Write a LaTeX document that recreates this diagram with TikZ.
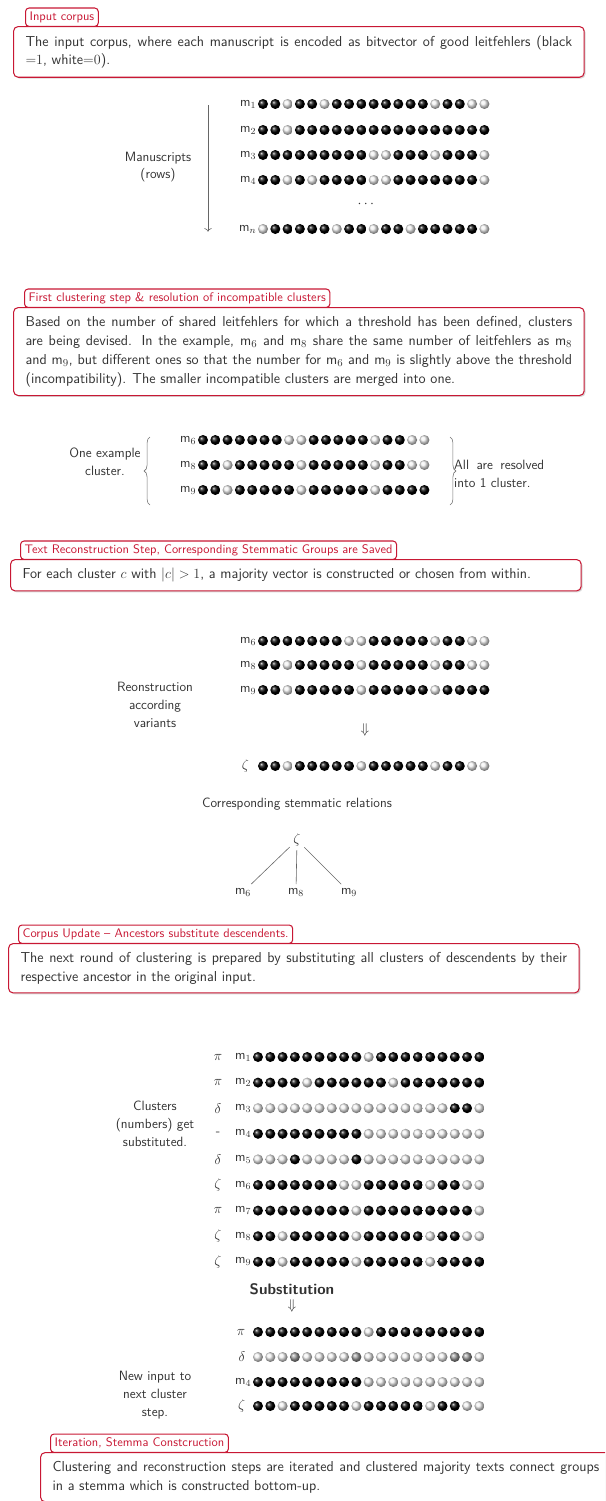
\documentclass[tikz,border=0pt]{standalone}
\usepackage{amsmath,amssymb}
\usepackage{xcolor}
\usepackage{tikz}
\usetikzlibrary{arrows.meta,positioning,calc,shadows,decorations.pathreplacing}

\renewcommand{\familydefault}{\sfdefault}
\definecolor{framered}{RGB}{200,24,52}
\definecolor{textgray}{RGB}{50,50,50}
\colorlet{bit0}{gray!12}
\colorlet{bit1}{black}
\colorlet{bit2}{gray!80}

\newcommand{\bodyfont}{\fontsize{12.3}{16.2}\selectfont}
\newcommand{\tabfont}{\fontsize{10.6}{12}\selectfont}
\newcommand{\notefont}{\fontsize{11.5}{15.3}\selectfont}
\newcommand{\bitsep}{0.369}
\newcommand{\bitrad}{0.15}
% one row of leitfehlers: [label offset]{name}{first ball}{label}{bits}
\newcommand{\bitrow}[5][0.18]{%
  \coordinate (#2) at #3;
  \node[rowlabel] (#2lab) at ($(#2)+(-#1,0)$) {#4};
  \foreach \b [count=\k from 0] in {#5}
    \shade[ball color=bit\b] ($(#2)+(\k*\bitsep,0)$) circle (\bitrad);
}

\begin{document}
\begin{tikzpicture}[
  stepbox/.style={draw=framered,line width=0.9pt,rounded corners=4pt,fill=white,
                  text width=16.4cm,align=justify,inner xsep=0.36cm,inner ysep=0.26cm,
                  font=\bodyfont,text=textgray,anchor=north west,
                  drop shadow={shadow xshift=1.2pt,shadow yshift=-1.2pt,opacity=0.3}},
  steptab/.style={draw=framered,line width=0.9pt,rounded corners=3pt,fill=white,
                  text=framered,font=\tabfont,inner xsep=3.5pt,inner ysep=3pt,
                  text height=7.5pt,text depth=2.2pt},
  sidenote/.style={align=center,font=\notefont,text=textgray},
  rowlabel/.style={anchor=east,inner sep=0.5pt,font=\notefont,text=textgray},
  greek/.style={inner sep=0.5pt,font=\notefont,text=textgray},
  treenode/.style={inner sep=3pt,font=\notefont,text=textgray},
  guide/.style={draw=black!60,line width=0.5pt},
  curly/.style={draw=black!55,line width=0.5pt,decorate,decoration={brace,amplitude=5pt}}
]
  \useasboundingbox (0,0) rectangle (18.15,-45.03);
  \clip (0,0) rectangle (18.15,-45.03);

  % input corpus
  \node[stepbox] (box1) at (0.39,-0.78) {
    The input corpus, where each manuscript is encoded as bitvector of good leitfehlers (black\linebreak
    ${=}1$, white${=}0$).};
  \node[steptab,above right=-0.8pt and 0.36cm of box1.north west] (tab1) {Input corpus};

  \node[sidenote] (mss) at (4.74,-5.01) {Manuscripts\\(rows)};
  \coordinate (arrtop) at (6.24,-3.15);
  \coordinate (arrbot) at (6.24,-6.95);
  \draw[guide,-{To[length=3pt]}] (arrtop) -- (arrbot);
  \bitrow{ma}{(7.89,-3.12)}{m$_1$}{1,1,0,1,1,0,1,1,1,1,1,1,1,1,0,1,1,0,0}
  \bitrow{mb}{(7.89,-3.90)}{m$_2$}{1,1,0,1,1,1,1,1,1,1,1,1,1,1,1,1,1,1,1}
  \bitrow{mc}{(7.89,-4.65)}{m$_3$}{1,1,1,1,1,1,1,1,1,0,0,1,1,1,0,1,1,1,0}
  \bitrow{md}{(7.89,-5.40)}{m$_4$}{1,1,0,1,0,1,1,1,1,0,0,1,1,1,1,1,1,1,0}
  \node[greek] (mdots) at (11.01,-6.12) {$\cdots$};
  \bitrow{mn}{(7.89,-6.87)}{m$_n$}{0,1,1,1,1,1,0,1,1,0,1,1,0,1,1,1,1,1,0}

  % first clustering step
  \node[stepbox] (box2) at (0.39,-9.21) {
    Based on the number of shared leitfehlers for which a threshold has been defined, clusters\linebreak
    are being devised. In the example, m$_6$ and m$_8$ share the same number of leitfehlers as m$_8$\linebreak
    and m$_9$, but different ones so that the number for m$_6$ and m$_9$ is slightly above the threshold\linebreak
    (incompatibility). The smaller incompatible clusters are merged into one.};
  \node[steptab,above right=-0.8pt and 0.33cm of box2.north west] (tab2)
    {First clustering step \& resolution of incompatible clusters};

  \node[sidenote] (example) at (3.15,-13.86) {One example\\cluster.};
  \coordinate (lbrbot) at (4.50,-15.15);
  \coordinate (lbrtop) at (4.50,-13.11);
  \coordinate (rbrtop) at (13.50,-13.11);
  \coordinate (rbrbot) at (13.50,-15.15);
  \draw[curly] (lbrbot) -- (lbrtop);
  \draw[curly] (rbrtop) -- (rbrbot);
  \bitrow{ca}{(6.09,-13.20)}{m$_6$}{1,1,1,1,1,1,1,0,0,1,1,1,1,1,0,1,1,0,0}
  \bitrow{cb}{(6.09,-13.95)}{m$_8$}{1,1,0,1,1,1,1,1,0,1,1,1,1,1,0,1,1,0,0}
  \bitrow{cc}{(6.09,-14.70)}{m$_9$}{1,1,0,1,1,1,1,1,0,1,1,1,1,1,0,1,1,1,1}
  \node[sidenote,anchor=west,text width=2.7cm,align=justify,inner sep=0pt] (resolved)
    at (13.62,-14.22) {All are resolved\linebreak into 1 cluster.};

  % reconstruction step
  \node[stepbox] (box3) at (0.30,-16.77) {
    For each cluster $c$ with $|c|>1$, a majority vector is constructed or chosen from within.};
  \node[steptab,above right=-0.8pt and 0.30cm of box3.north west] (tab3)
    {Text Reconstruction Step, Corresponding Stemmatic Groups are Saved};

  \node[sidenote] (recon) at (4.65,-21.15) {Reonstruction\\according\\variants};
  \bitrow{ra}{(7.89,-19.23)}{m$_6$}{1,1,1,1,1,1,1,0,0,1,1,1,1,1,0,1,1,0,0}
  \bitrow{rb}{(7.89,-19.95)}{m$_8$}{1,1,0,1,1,1,1,1,0,1,1,1,1,1,0,1,1,0,0}
  \bitrow{rc}{(7.89,-20.70)}{m$_9$}{1,1,0,1,1,1,1,1,0,1,1,1,1,1,0,1,1,1,1}
  \node[greek] (rarrow) at (10.95,-21.90) {$\Downarrow$};
  \bitrow[0.40]{rz}{(7.89,-22.98)}{$\zeta$}{1,1,0,1,1,1,1,1,0,1,1,1,1,1,0,1,1,0,0}

  \node[sidenote] (relations) at (8.91,-24.12) {Corresponding stemmatic relations};
  \node[treenode] (stz) at (8.91,-25.20) {$\zeta$};
  \node[treenode] (st6) at (7.29,-26.76) {m$_6$};
  \node[treenode] (st8) at (8.88,-26.76) {m$_8$};
  \node[treenode] (st9) at (10.47,-26.76) {m$_9$};
  \draw[guide] (stz) -- (st6);
  \draw[guide] (stz) -- (st8);
  \draw[guide] (stz) -- (st9);

  % corpus update
  \node[stepbox] (box4) at (0.24,-28.29) {
    The next round of clustering is prepared by substituting all clusters of descendents by their\linebreak
    respective ancestor in the original input.};
  \node[steptab,above right=-0.8pt and 0.30cm of box4.north west] (tab4)
    {Corpus Update \textendash{} Ancestors substitute descendents.};

  \node[sidenote] (clusters) at (4.65,-33.72) {Clusters\\(numbers) get\\substituted.};
  \foreach \g [count=\i from 0] in {$\pi$,$\pi$,$\delta$,-,$\delta$,$\zeta$,$\pi$,$\zeta$,$\zeta$}
    \node[greek] (grk\i) at (6.54,{-31.71-\i*0.768}) {\g};
  \bitrow{sa}{(7.74,-31.710)}{m$_1$}{1,1,1,1,1,1,1,1,1,0,1,1,1,1,1,1,1,1,1}
  \bitrow{sb}{(7.74,-32.478)}{m$_2$}{1,1,1,1,0,1,1,1,1,1,1,0,1,1,1,1,1,1,1}
  \bitrow{sc}{(7.74,-33.246)}{m$_3$}{0,0,0,0,0,0,0,0,0,0,0,0,0,0,0,0,1,1,0}
  \bitrow{sd}{(7.74,-34.014)}{m$_4$}{1,1,1,1,1,1,1,1,1,0,0,0,0,0,0,0,0,0,0}
  \bitrow{se}{(7.74,-34.782)}{m$_5$}{0,0,0,1,0,0,0,0,1,0,0,0,0,0,0,0,0,0,0}
  \bitrow{sf}{(7.74,-35.550)}{m$_6$}{1,1,1,1,1,1,1,0,0,1,1,1,1,1,0,1,1,0,0}
  \bitrow{sg}{(7.74,-36.318)}{m$_7$}{1,1,1,1,1,1,1,1,0,1,1,1,1,1,1,1,1,1,0}
  \bitrow{sh}{(7.74,-37.086)}{m$_8$}{1,1,0,1,1,1,1,1,0,1,1,1,1,1,0,1,1,0,0}
  \bitrow{si}{(7.74,-37.854)}{m$_9$}{1,1,0,1,1,1,1,1,0,1,1,1,1,1,0,1,1,1,1}

  \node[sidenote,font=\fontsize{13}{15}\selectfont\bfseries] (subst) at (8.76,-38.67) {Substitution};
  \node[greek] (sarrow) at (8.76,-39.18) {$\Downarrow$};
  \bitrow[0.36]{na}{(7.74,-39.96)}{$\pi$}{1,1,1,1,1,1,1,1,1,0,1,1,1,1,1,1,1,1,1}
  \bitrow[0.36]{nb}{(7.74,-40.71)}{$\delta$}{0,0,0,2,0,0,0,0,2,0,0,0,0,0,0,0,2,2,0}
  \bitrow{nc}{(7.74,-41.46)}{m$_4$}{1,1,1,1,1,1,1,1,1,0,0,0,0,0,0,0,0,0,0}
  \bitrow[0.36]{nd}{(7.74,-42.18)}{$\zeta$}{1,1,0,1,1,1,1,1,0,1,1,1,1,1,0,1,1,0,0}
  \node[sidenote] (newinput) at (4.65,-41.85) {New input to\\next cluster\\step.};

  % iteration
  \node[stepbox] (box5) at (1.20,-43.56) {
    Clustering and reconstruction steps are iterated and clustered majority texts connect groups\linebreak
    in a stemma which is constructed bottom-up.};
  \node[steptab,above right=-0.8pt and 0.30cm of box5.north west] (tab5)
    {Iteration, Stemma Constcruction};
\end{tikzpicture}
\end{document}
